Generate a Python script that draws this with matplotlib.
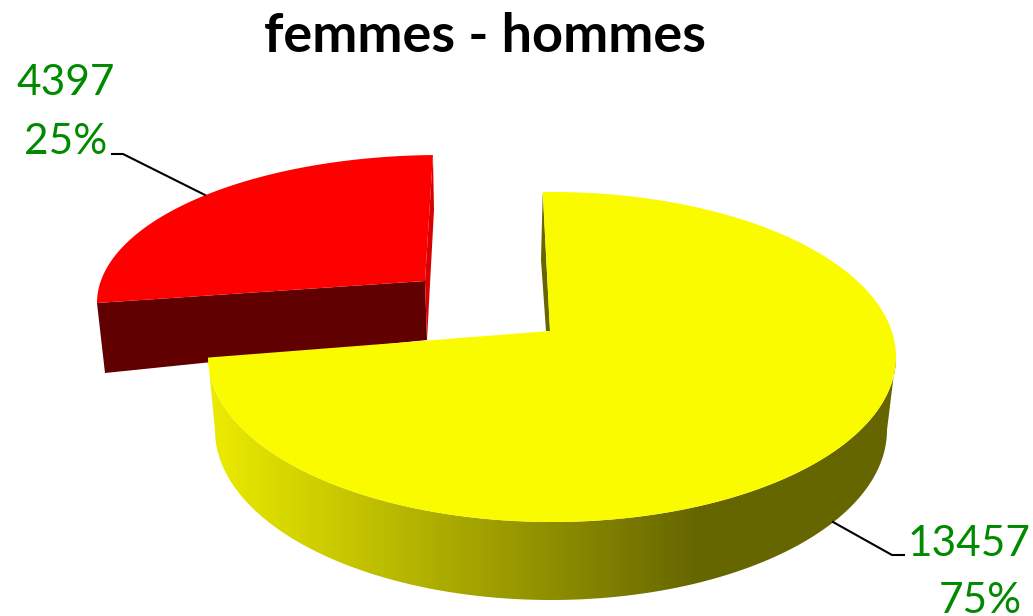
import matplotlib
matplotlib.use('Agg')
import matplotlib.pyplot as plt
import numpy as np
from matplotlib.colors import LinearSegmentedColormap
from matplotlib.patches import Polygon

plt.rcParams['font.family'] = ['Lato', 'DejaVu Sans']

# Data
values = [4397, 13457]
percent_labels = ['25%', '75%']
value_labels = ['4397', '13457']
title = 'femmes - hommes'

shares = np.array(values) / sum(values)
sweep_red = shares[0] * 360
sweep_yellow = shares[1] * 360

# The figure is laid out in pixels, y going down
fig = plt.figure(figsize=(10.33, 6.16), dpi=100)
ax = fig.add_axes([0, 0, 1, 1])
ax.set_axis_off()


# Points of an ellipse, angle clockwise from the top
def arc(cx, cy, rx, ry, start, stop, n=200):
    t = np.radians(np.linspace(start, stop, n))
    return np.column_stack([cx + rx * np.sin(t), cy - ry * np.cos(t)])


# Red slice: left end of the arc is at 270 degrees
red_top = arc(441, 303, 344, 148, 270, 270 + sweep_red)
red_apex = (425, 281)
red_apex_low = (427, 340)
red_left_low = (105, 373)
ax.add_patch(Polygon([red_top[0], red_apex, red_apex_low, red_left_low],
                     closed=True, fc='#600000', ec='none'))
ax.add_patch(Polygon([red_top[-1], (434, 210), red_apex_low, red_apex],
                     closed=True, fc='#d80000', ec='none'))
ax.add_patch(Polygon(np.vstack([red_top, [red_apex]]), closed=True, fc='#ff0000', ec='none'))

# Yellow slice: the arc ends at its left tip
start_yellow = 269.8 - sweep_yellow
yellow_top = arc(552, 357, 344, 165, start_yellow, 269.8, n=400)
yellow_apex = (550, 331)

# Outer wall with the shading going dark to the right
wall_top = arc(552, 357, 344, 165, 90, 269.8)
wall_low = arc(551, 430, 336, 170, 90, 269.8)
wall = Polygon(np.vstack([wall_top, wall_low[::-1]]), closed=True, fc='none', ec='none')
ax.add_patch(wall)
wall_cmap = LinearSegmentedColormap.from_list(
    'wall', [(0, '#ecec00'), (0.71, '#666600'), (1, '#666600')])
shade = ax.imshow(np.linspace(0, 1, 256)[None, :], cmap=wall_cmap, aspect='auto',
                  extent=(209, 897, 616, 0), zorder=1)
shade.set_clip_path(wall)

# Cut face seen at the start of the yellow arc
ax.add_patch(Polygon([yellow_top[0], (541, 260), (546, 331), yellow_apex],
                     closed=True, fc='#666600', ec='none', zorder=2))
ax.add_patch(Polygon(np.vstack([yellow_top, [yellow_apex]]), closed=True,
                     fc='#fbfb00', ec='none', zorder=3))

# Leader lines
ax.plot([112, 123, 205], [154, 154, 195], color='black', lw=1.5, zorder=4)
ax.plot([833, 892, 904], [522, 555, 555], color='black', lw=1.5, zorder=4)

# Labels
green = '#008a00'
ax.text(66, 95, value_labels[0], color=green, fontsize=30.5, ha='center', va='baseline')
ax.text(66, 154, percent_labels[0], color=green, fontsize=30.5, ha='center', va='baseline')
ax.text(969.5, 556, value_labels[1], color=green, fontsize=30.5, ha='center', va='baseline')
ax.text(980, 613, percent_labels[1], color=green, fontsize=30.5, ha='center', va='baseline')
ax.text(484.5, 52, title, color='black', fontsize=39, fontweight='bold', ha='center', va='baseline')

ax.set_xlim(0, 1033)
ax.set_ylim(616, 0)
fig.savefig('out.png', dpi=100)
